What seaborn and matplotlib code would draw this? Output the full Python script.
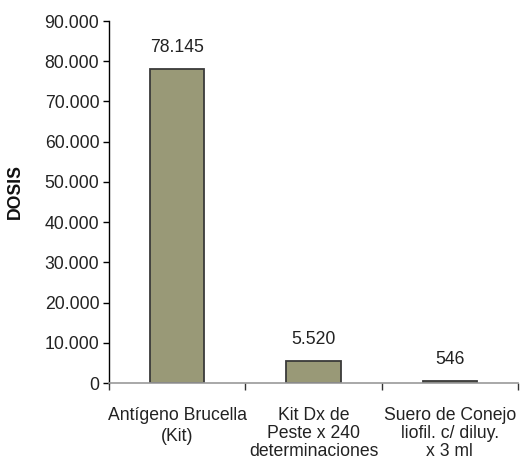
import matplotlib
matplotlib.use("Agg")
import matplotlib.pyplot as plt
import seaborn as sns
import pandas as pd
from matplotlib.ticker import FuncFormatter, FixedLocator

categories = ["Antígeno Brucella\n(Kit)", "Kit Dx de\nPeste x 240\ndeterminaciones",
              "Suero de Conejo\nliofil. c/ diluy.\nx 3 ml"]
values = [78145, 5520, 546]
value_labels = ["78.145", "5.520", "546"]
y_ticks = [0, 10000, 20000, 30000, 40000, 50000, 60000, 70000, 80000, 90000]

sns.set_style("white")
plt.rcParams['font.family'] = ['Liberation Sans', 'DejaVu Sans']
FS = 12.7

df = pd.DataFrame({"cat": categories, "val": values})

fig = plt.figure(figsize=(5.2, 4.61), dpi=100)
ax = fig.add_axes([109/520, 1-383/461, (518-109)/520, (383-21)/461])

sns.barplot(data=df, x="cat", y="val", ax=ax, color="#999977", width=0.4,
            edgecolor="#3a3a3a", linewidth=1.3, saturation=1)

ax.set_ylim(0, 90000)
ax.set_xlim(-0.5, 2.5)
ax.set_yticks(y_ticks)
ax.yaxis.set_major_formatter(FuncFormatter(lambda v, p: f"{int(v):,}".replace(",", ".")))
ax.tick_params(axis="y", which="major", direction="out", length=4, width=1, color="black",
               labelsize=FS, pad=3, left=True, labelcolor="#222222")
ax.tick_params(axis="x", which="major", length=0, labelsize=FS, pad=17, labelcolor="#222222")
ax.xaxis.set_minor_locator(FixedLocator([-0.5, 0.5, 1.5, 2.5]))
ax.tick_params(axis="x", which="minor", direction="out", length=5, width=1, color="#333333",
               bottom=True)
for k, lbl in enumerate(ax.get_xticklabels()):
    lbl.set_linespacing(1.35 if k == 0 else 1.1)

for s in ["top", "right"]:
    ax.spines[s].set_visible(False)
ax.spines["left"].set_color("black")
ax.spines["left"].set_linewidth(1)
ax.spines["bottom"].set_color("#999999")
ax.spines["bottom"].set_linewidth(1.2)

ax.set_xlabel("")
ax.set_ylabel("DOSIS", fontsize=FS, fontweight="bold", color="#111111")
ax.yaxis.set_label_coords(-0.208, 0.528)

for i, (v, t) in enumerate(zip(values, value_labels)):
    ax.annotate(t, xy=(i, v), xytext=(0, 15.5), textcoords="offset points",
                ha="center", va="center", fontsize=FS, color="#222222")

fig.savefig("out.png", dpi=100)
